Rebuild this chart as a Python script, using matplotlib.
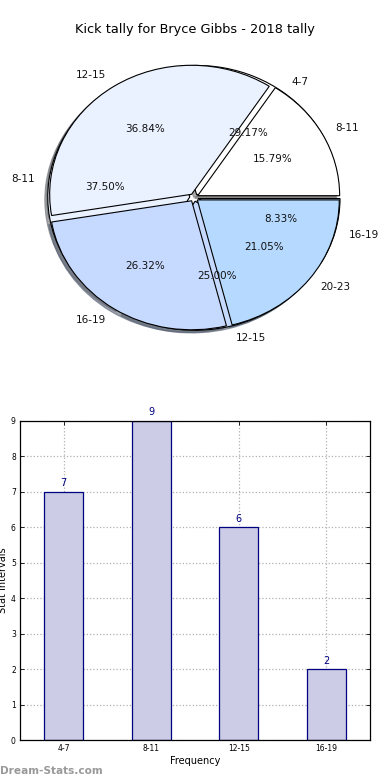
import matplotlib
matplotlib.use("Agg")
from matplotlib import pyplot as plt

# kick tally (bars + first pie)
kick_bins = ['4-7', '8-11', '12-15', '16-19']
kick_counts = [7, 9, 6, 2]

# second tally drawn on top of the first pie
other_bins = ['8-11', '12-15', '16-19', '20-23']
other_counts = [3, 7, 5, 4]

PIE_COLORS = ['#FFFFFF', '#EBF2FF', '#C6D9FF', '#B5D9FF']
BAR_FACE = '#CCCCE6'
NAVY = '#000080'
EXPLODE = 0.03

fig = plt.figure(figsize=(3.9, 7.8), dpi=100)

# ---- pie ----
ax = fig.add_axes([0.0423, 0.540, 0.910, 0.4135])
for bins, counts in [(kick_bins, kick_counts), (other_bins, other_counts)]:
	wedges, texts, autotexts = ax.pie(counts, labels=bins, colors=PIE_COLORS,
		explode=[EXPLODE] * len(counts), autopct='%1.2f%%',
		shadow=dict(ox=-0.015, oy=-0.015, shade=0.55, alpha=0.6),
		wedgeprops=dict(edgecolor='black', linewidth=0.8),
		textprops=dict(fontsize=7.5, color='#111111'))
ax.set_aspect('auto')
ax.set_xlim(-1.25, 1.25)
ax.set_ylim(-1.25, 1.25)
ax.axis('off')

fig.text(0.5, 1 - 30 / 780, 'Kick tally for Bryce Gibbs - 2018 tally', ha='center', va='center', fontsize=9.3)

# ---- bars ----
bx = fig.add_axes([20 / 390, 40 / 780, 350 / 390, 319 / 780])
xs = range(len(kick_bins))
bx.bar(xs, kick_counts, width=0.45, color=BAR_FACE, edgecolor=NAVY, linewidth=0.9, zorder=2)
for x, c in zip(xs, kick_counts):
	bx.text(x, c + 0.1, str(c), ha='center', va='bottom', color=NAVY, fontsize=7)
bx.set_xlim(-0.5, 3.5)
bx.set_ylim(0, 9)
bx.set_xticks(list(xs))
bx.set_xticklabels(kick_bins)
bx.set_yticks(range(10))
bx.tick_params(direction='in', top=True, right=True, labelsize=5.5, length=3, width=0.6, pad=3)
bx.grid(True, linestyle=':', color='#B0B0B0', linewidth=0.9, zorder=0)
bx.set_axisbelow(True)
bx.set_xlabel('Frequency', fontsize=7, labelpad=2)
bx.set_ylabel('Stat Intervals', fontsize=7, labelpad=2)
for s in bx.spines.values():
	s.set_linewidth(0.9)

fig.text(0.0, 9 / 780, 'Dream-Stats.com', ha='left', va='center', fontsize=7.6, color='#999999', fontweight='bold')

plt.savefig('out.png', dpi=100)
